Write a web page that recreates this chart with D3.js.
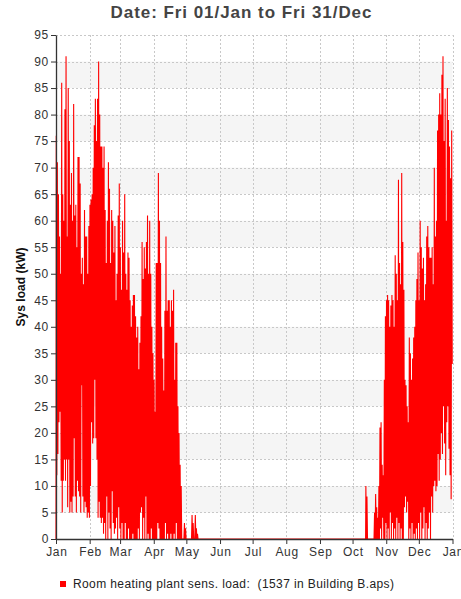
<!DOCTYPE html>
<html>
<head>
<meta charset="utf-8">
<script src="https://cdn.jsdelivr.net/npm/d3@7"></script>
<style>
  body { margin: 0; background: #fff; font-family: "Liberation Sans", Arial, sans-serif; }
</style>
</head>
<body>
<div id="chart"></div>
<script>

var title = "Date: Fri 01/Jan to Fri 31/Dec";
var yLabel = "Sys load (kW)";
var legendLabel = "Room heating plant sens. load:  (1537 in Building B.aps)";

var yTicks = [0, 5, 10, 15, 20, 25, 30, 35, 40, 45, 50, 55, 60, 65, 70, 75, 80, 85, 90, 95];
var monthTicks = ["2021-01-01", "2021-02-01", "2021-03-01", "2021-04-01", "2021-05-01", "2021-06-01",
  "2021-07-01", "2021-08-01", "2021-09-01", "2021-10-01", "2021-11-01", "2021-12-01", "2022-01-01"];

// spring season, one value per day from 01/Jan
var springStart = "2021-01-01";
var springPeak = [
  76, 71, 65, 57, 50, 86, 65, 60, 81, 91, 57, 85, 75, 63, 69, 60, 82, 61, 63, 55,
  72, 72, 67, 50, 53, 48, 62, 57, 57, 50, 59, 63, 64, 65, 70, 78, 83, 75, 83, 90,
  80, 74, 74, 70, 74, 62, 52, 60, 71, 66, 52, 62, 60, 54, 59, 45, 50, 61, 67, 55,
  47, 60, 54, 65, 50, 47, 54, 53, 45, 40, 44, 46, 46, 42, 38, 40, 32, 37, 42, 56,
  49, 55, 51, 56, 61, 50, 60, 50, 40, 35, 30, 24, 52, 52, 69, 60, 52, 40, 34, 28,
  43, 57, 43, 45, 45, 40, 45, 43, 47, 30, 37, 37, 25, 20, 14, 10, 0, 0, 3, 2,
  0, 0, 0, 0, 0, 4.5, 3, 0, 4.5, 2, 1, 0
];
var springLow = [
  12, 16, 22, 24, 11, 5, 11, 15, 11, 15, 6, 15, 5, 7, 5, 8, 19, 8, 5, 11,
  9, 8, 5, 29, 8, 5, 7, 6, 4, 5, 4, 10, 22, 18, 19, 30, 19, 15, 4, 7,
  4, 3, 4, 1, 3, 0, 8, 0, 5, 2, 0, 9, 3, 1, 2, 4, 0, 6, 2, 0,
  3, 0, 0, 3, 0, 0, 2, 0, 0, 0, 1, 0, 0, 0, 0, 2, 0, 5, 6, 0,
  4, 0, 8, 0, 1, 0, 0, 2, 0, 0, 0, 0, 0, 3, 2, 0, 0, 0, 0, 0,
  3, 0, 1, 0, 0, 1, 0, 0, 1, 0, 3, 0, 0, 0, 0, 0, 0, 0, 0, 0,
  0, 0, 0, 0, 0, 0, 0, 0, 0, 0, 0, 0
];

// autumn season, one value per day from 13/Oct
var autumnStart = "2021-10-13";
var autumnPeak = [
  10, 8, 0, 0, 0, 0, 0, 0, 5, 8.5, 6, 4, 10, 21, 22, 14, 12, 30, 42, 45,
  46, 45, 40, 44, 46, 45, 40, 53.5, 50, 45, 67.7, 52, 48, 69, 56, 47, 30, 29, 25, 22,
  38, 35, 30, 34, 38, 40, 45, 49, 54, 45, 60, 55, 51, 53, 45, 48, 57, 59, 55, 53,
  53, 55, 48, 70, 57, 60, 77, 80, 84, 80, 87.5, 91, 75, 83, 60, 85, 79, 74, 68, 77
];
var autumnLow = [
  0, 0, 0, 0, 0, 0, 0, 0, 0, 0, 0, 0, 0, 2, 0, 4, 0, 0, 3, 0,
  2, 0, 5, 0, 3, 0, 2, 0, 4, 0, 3, 0, 2, 0, 0, 6, 8, 5, 7, 0,
  2, 0, 3, 0, 1, 0, 2, 0, 3, 0, 5, 0, 2, 6, 0, 3, 0, 2, 5, 0,
  8, 5, 10, 11, 9, 10, 16, 11, 15, 20, 16, 25, 18, 12, 22, 25, 17, 12, 7.5, 33
];

var width = 461, height = 599;
var margin = { top: 35, right: 8, bottom: 60, left: 56 };
var parse = d3.timeParse("%Y-%m-%d");

function season(start, peaks, lows) {
  var day0 = parse(start);
  var pts = [{ t: day0, v: 0 }];
  peaks.forEach(function (p, i) {
    var d = d3.timeDay.offset(day0, i);
    pts.push({ t: d3.timeHour.offset(d, 6), v: p });
    pts.push({ t: d3.timeHour.offset(d, 18), v: lows[i] });
  });
  return pts;
}

var points = season(springStart, springPeak, springLow)
  .concat(season(autumnStart, autumnPeak, autumnLow));

var svg = d3.select("#chart").append("svg")
  .attr("width", width)
  .attr("height", height);

var x = d3.scaleTime()
  .domain([parse(monthTicks[0]), parse(monthTicks[monthTicks.length - 1])])
  .range([margin.left, width - margin.right - 0.5]);

var y = d3.scaleLinear()
  .domain([0, 95])
  .range([height - margin.bottom, margin.top]);

// bands
svg.append("g").selectAll("rect")
  .data(yTicks.filter(function (t) { return t % 10 == 5 && t < 95; }))
  .enter().append("rect")
  .attr("x", x.range()[0])
  .attr("width", x.range()[1] - x.range()[0])
  .attr("y", function (d) { return y(d + 5); })
  .attr("height", function (d) { return y(d) - y(d + 5); })
  .attr("fill", "#f5f5f5");

// grid
svg.append("g").selectAll("line")
  .data(yTicks.slice(1))
  .enter().append("line")
  .attr("x1", x.range()[0]).attr("x2", x.range()[1])
  .attr("y1", function (d) { return Math.round(y(d)) + 0.5; })
  .attr("y2", function (d) { return Math.round(y(d)) + 0.5; })
  .attr("stroke", "#c8c8c8")
  .attr("stroke-dasharray", "2,2");

svg.append("g").selectAll("line")
  .data(monthTicks.slice(1))
  .enter().append("line")
  .attr("x1", function (d) { return Math.round(x(parse(d))) + 0.5; })
  .attr("x2", function (d) { return Math.round(x(parse(d))) + 0.5; })
  .attr("y1", y(95)).attr("y2", y(0))
  .attr("stroke", "#c8c8c8")
  .attr("stroke-dasharray", "2,2");

// load line
svg.append("path")
  .datum(points)
  .attr("fill", "none")
  .attr("stroke", "#ff0000")
  .attr("stroke-width", 1.1)
  .attr("d", d3.line()
    .x(function (d) { return x(d.t); })
    .y(function (d) { return y(d.v); }));

// axes
var yAxis = svg.append("g")
  .attr("transform", "translate(" + margin.left + ",0)")
  .call(d3.axisLeft(y).tickValues(yTicks).tickSize(5).tickSizeOuter(0).tickPadding(2));

var xAxis = svg.append("g")
  .attr("transform", "translate(0," + y(0) + ")")
  .call(d3.axisBottom(x).tickValues(monthTicks.map(parse))
    .tickFormat(d3.timeFormat("%b")).tickSize(5).tickSizeOuter(0).tickPadding(3));

[yAxis, xAxis].forEach(function (g) {
  g.selectAll(".domain").attr("stroke", "#333").attr("stroke-width", 1.3);
  g.selectAll(".tick line").attr("stroke", "#333");
  g.selectAll("text")
    .attr("fill", "#333")
    .style("font-family", "'Liberation Sans', Arial, sans-serif")
    .style("font-size", "12px")
    .style("letter-spacing", "0.7px");
});
// letter-spacing pads the right side, nudge back
xAxis.selectAll("text").attr("dx", "0.35px");

// title
svg.append("text")
  .attr("x", 241)
  .attr("y", 18)
  .attr("text-anchor", "middle")
  .attr("fill", "#444")
  .attr("textLength", 261)
  .attr("lengthAdjust", "spacing")
  .style("font-size", "17px")
  .style("font-weight", "bold")
  .text(title);

// y label
svg.append("text")
  .attr("transform", "translate(25," + (y(0) + y(95)) / 2 + ") rotate(-90)")
  .attr("text-anchor", "middle")
  .attr("fill", "#111")
  .attr("textLength", 79)
  .attr("lengthAdjust", "spacing")
  .style("font-size", "12px")
  .style("font-weight", "bold")
  .text(yLabel);

// legend
var legend = svg.append("g").attr("transform", "translate(60,584)");
legend.append("rect")
  .attr("x", 0).attr("y", -3)
  .attr("width", 6).attr("height", 6)
  .attr("fill", "#ff0000");
legend.append("text")
  .attr("x", 13)
  .attr("y", 4)
  .attr("fill", "#222")
  .attr("xml:space", "preserve")
  .attr("textLength", 321)
  .attr("lengthAdjust", "spacing")
  .style("white-space", "pre")
  .style("font-size", "12px")
  .text(legendLabel);
</script>
</body>
</html>
